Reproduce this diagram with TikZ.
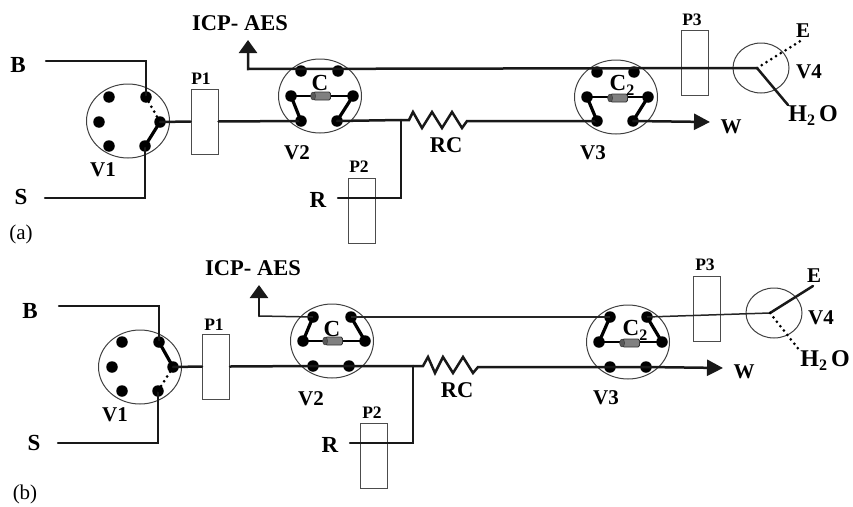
\documentclass[tikz,border=0pt]{standalone}
\usepackage{fontspec}
\setmainfont{Liberation Serif}
\usetikzlibrary{arrows.meta,shapes.geometric}
\newcommand\fsz[1]{\fontsize{#1}{#1}\selectfont}
\newcommand\lowtwo[2]{\raisebox{#2}{\fsz{#1}\bfseries 2}}
\tikzset{
  x=1pt,y=-1pt,
  pipe/.style={line width=2.5pt,black!90,line cap=round,line join=miter},
  arm/.style={line width=3.2pt,black,line cap=round},
  bar/.style={line width=1.9pt,black},
  thinpipe/.style={line width=1.5pt,black!85},
  dotline/.style={line width=3pt,black,line cap=round,dash pattern=on 0pt off 5.6pt},
  valve/.style={ellipse,draw=black!75,line width=1pt,minimum width=83pt,minimum height=74pt,inner sep=0pt},
  smallvalve/.style={ellipse,draw=black!75,line width=1pt,minimum width=56pt,minimum height=50pt,inner sep=0pt},
  port/.style={circle,fill=black,inner sep=0pt,minimum size=11.5pt},
  pumpbox/.style={rectangle,draw=black!70,fill=white,line width=1pt,minimum width=27pt,minimum height=65pt,inner sep=0pt},
  passbox/.style={rectangle,draw=black!70,line width=1pt,minimum width=27pt,minimum height=65pt,inner sep=0pt},
  column/.style={rectangle,rounded corners=1.5pt,draw=black!80,fill=black!50,line width=0.8pt,minimum width=17pt,minimum height=8pt,inner sep=0pt},
  colcap/.style={ellipse,draw=black!80,fill=black!65,minimum width=5pt,minimum height=8pt,inner sep=0pt},
  lab/.style={inner sep=0pt,font=\fsz{21}\bfseries},
  big/.style={inner sep=0pt,font=\fsz{23}\bfseries},
  wide/.style={inner sep=0pt,font=\fsz{22.5}\bfseries},
  plab/.style={inner sep=0pt,font=\fsz{17.5}\bfseries},
  caplab/.style={inner sep=0pt,font=\fsz{21}},
  tipW/.style={-{Triangle[length=16pt,width=16pt]}},
  tipI/.style={-{Triangle[length=13pt,width=18pt]}},
}
\begin{document}
\begin{tikzpicture}
\useasboundingbox (0,0) rectangle (853,506);
% ---------- panel (a) ----------
\node[valve] (aV1) at (128,121) {};
\node[valve] (aV2) at (320,96) {};
\node[valve] (aV3) at (616,97) {};
\node[smallvalve] (aV4) at (761,68) {};
\foreach \n/\x/\y in {aa/109/97,ab/99/122,ac/109/146,ad/146/97,ae/160/122,af/145/146,
  ba/301/71,bb/338/71,bc/291/96,bd/353/96,be/301/121,bf/337/121,
  ca/597/72,cb/634/72,cc/587/97,cd/648/97,ce/597/121,cf/633/121}
  \node[port] (\n) at (\x,\y) {};
\node[pumpbox] (aP1) at (204.5,121.5) {};
\node[passbox] (aP2) at (361.5,210.5) {};
\node[passbox] (aP3) at (694.5,63) {};
\coordinate (aBs) at (46,61);
\coordinate (aSs) at (45,198);
\coordinate (aRs) at (338,198);
\coordinate (aJ) at (401,120);
\coordinate (aRj) at (401,198);
\coordinate (aRCe) at (467,121);
\coordinate (aI) at (248,69);
\coordinate (aItip) at (248,40);
\coordinate (aH) at (757,68);
\coordinate (aE) at (802,40);
\coordinate (aW) at (788,105);
\coordinate (aWt) at (710,122);
\draw[pipe] (aBs) -| (ad.center);
\draw[pipe] (aSs) -| (af.center);
\draw[arm] (af.center) -- (ae.center);
\draw[dotline] (ad.center) -- (ae.center);
\draw[pipe] (ae.center) -- (aP1.west);
\draw[pipe] (aP1.east) -- (be.center);
\draw[arm] (be.center) -- (bc.center);
\draw[arm] (bf.center) -- (bd.center);
\draw[bar] (bc.center) -- (bd.center);
\draw[pipe] (bf.center) -- (aJ);
\draw[pipe] (aRs) -- (aRj) -- (aJ);
\draw[pipe] (aJ) -- (409,120) -- (413,112) -- (422,128) -- (432,112) -- (442,128) -- (452,112) -- (462,128) -- (aRCe) -- (ce.center);
\draw[arm] (ce.center) -- (cc.center);
\draw[bar] (cc.center) -- (cd.center);
\draw[arm] (cd.center) -- (cf.center);
\draw[pipe,tipW] (cf.center) -- (aWt);
\draw[pipe,tipI] (aH) -- (aI) -- (aItip);
\draw[dotline] (aH) -- (aE);
\draw[pipe] (aH) -- (aW);
\node[column] (aC1) at (322,96) {};
\node[colcap] (aC1e) at (aC1.west) {};
\node[column] (aC2) at (619,98) {};
\node[colcap] (aC2e) at (aC2.west) {};
\node[big] (lB) at (18,65) {B};
\node[big] (lS) at (21,197) {S};
\node[wide] (lI) at (240,23) {ICP- AES};
\node[plab] (lP1) at (201,79) {P1};
\node[lab] (lV1) at (103,170) {V1};
\node[lab] (lV2) at (297,153) {V2};
\node[big] (lC) at (320,83) {C};
\node[plab] (lP2) at (359,167) {P2};
\node[big] (lR) at (318,200) {R};
\node[wide] (lRC) at (446,145) {RC};
\node[lab] (lV3) at (593,153) {V3};
\node[big] (lC2) at (622,85) {C\lowtwo{16}{-5pt}};
\node[lab] (lW) at (731,127) {W};
\node[plab] (lP3) at (692,20) {P3};
\node[lab] (lE) at (803,31) {E};
\node[lab] (lV4) at (809,72) {V4};
\node[lab,font=\fsz{24}\bfseries] (lH) at (813,116) {H\lowtwo{16}{-4pt}\,O};
\node[caplab] (la) at (21,234) {(a)};
% ---------- panel (b) ----------
\node[valve] (bV1) at (140,367) {};
\node[valve] (bV2) at (332,341) {};
\node[valve] (bV3) at (628,342) {};
\node[smallvalve] (bV4) at (774,313) {};
\foreach \n/\x/\y in {da/122/342,db/112/367,dc/122/391,dd/159/342,de/173/367,df/158/391,
  ea/313/317,eb/351/317,ec/303/341,ed/365/341,ee/313/366,ef/349/366,
  fa/610/317,fb/647/317,fc/599/342,fd/662/342,fe/610/367,ff/646/367}
  \node[port] (\n) at (\x,\y) {};
\node[pumpbox] (bP1) at (216,366.5) {};
\node[passbox] (bP2) at (374,455.5) {};
\node[passbox] (bP3) at (707,308.5) {};
\coordinate (bBs) at (59,306);
\coordinate (bSs) at (58,443);
\coordinate (bRs) at (350,443);
\coordinate (bJ) at (413,366);
\coordinate (bRj) at (413,443);
\coordinate (bRCe) at (478,367);
\coordinate (bI) at (259,316);
\coordinate (bItip) at (259,285);
\coordinate (bH) at (770,313);
\coordinate (bE) at (813,286);
\coordinate (bW) at (800,351);
\coordinate (bWt) at (723,368);
\draw[pipe] (bBs) -| (dd.center);
\draw[pipe] (bSs) -| (df.center);
\draw[arm] (dd.center) -- (de.center);
\draw[dotline] (de.center) -- (df.center);
\draw[pipe] (de.center) -- (bP1.west);
\draw[pipe] (bP1.east) -- (ee.center) -- (ef.center) -- (bJ);
\draw[pipe] (bRs) -- (bRj) -- (bJ);
\draw[pipe] (bJ) -- (423,366) -- (428,357) -- (435,373) -- (443,357) -- (453,373) -- (463,357) -- (473,373) -- (bRCe) -- (fe.center) -- (ff.center);
\draw[pipe,tipW] (ff.center) -- (bWt);
\draw[arm] (ea.center) -- (ec.center);
\draw[bar] (ec.center) -- (ed.center);
\draw[arm] (ed.center) -- (eb.center);
\draw[arm] (fa.center) -- (fc.center);
\draw[bar] (fc.center) -- (fd.center);
\draw[arm] (fd.center) -- (fb.center);
\draw[thinpipe] (eb.center) -- (fa.center);
\draw[thinpipe] (fb.center) -- (bH);
\draw[thinpipe] (ea.center) -- (bI);
\draw[pipe,tipI] (bI) -- (bItip);
\draw[pipe] (bH) -- (bE);
\draw[dotline] (bH) -- (bW);
\node[column] (bC1) at (334,341) {};
\node[colcap] (bC1e) at (bC1.west) {};
\node[column] (bC2) at (631,343) {};
\node[colcap] (bC2e) at (bC2.west) {};
\node[big] (mB) at (30,311) {B};
\node[big] (mS) at (34,443) {S};
\node[wide] (mI) at (253,268) {ICP- AES};
\node[plab] (mP1) at (214,325) {P1};
\node[lab] (mV1) at (115,415) {V1};
\node[lab] (mV2) at (311,399) {V2};
\node[big] (mC) at (332,329) {C};
\node[plab] (mP2) at (372,413) {P2};
\node[big] (mR) at (330,445) {R};
\node[wide] (mRC) at (457,390) {RC};
\node[lab] (mV3) at (606,398) {V3};
\node[big] (mC2) at (635,330) {C\lowtwo{16}{-5pt}};
\node[lab] (mW) at (744,372) {W};
\node[plab] (mP3) at (705,265) {P3};
\node[lab] (mE) at (814,276) {E};
\node[lab] (mV4) at (821,318) {V4};
\node[lab,font=\fsz{24}\bfseries] (mH) at (825,361) {H\lowtwo{16}{-4pt}\,O};
\node[caplab] (mb) at (25,494) {(b)};
\end{tikzpicture}
\end{document}
